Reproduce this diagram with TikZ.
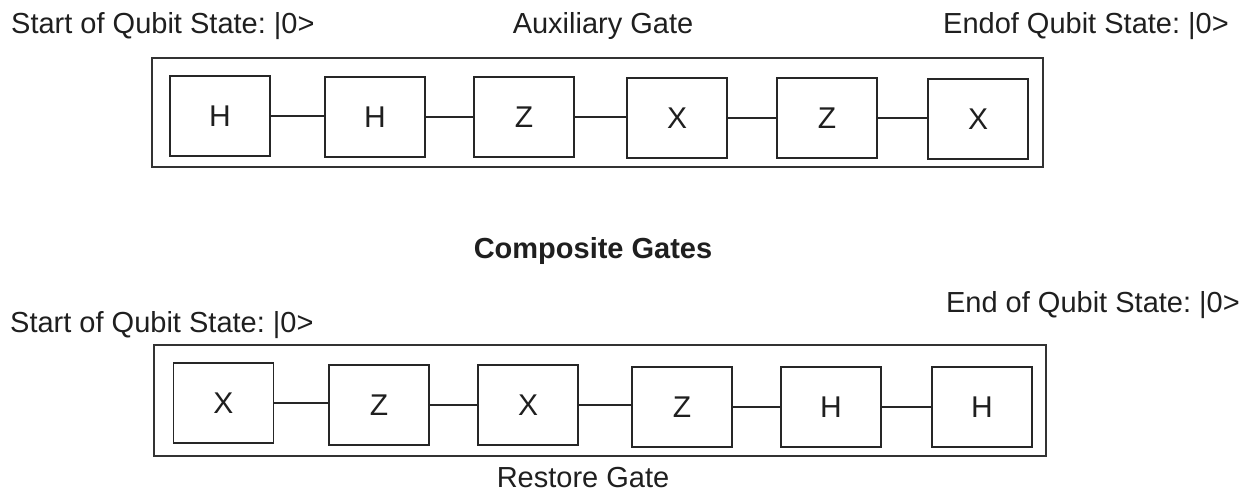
\documentclass[tikz,border=0pt]{standalone}
\usepackage{fontspec}
\setmainfont{Liberation Sans}
\frenchspacing
\begin{document}
\begin{tikzpicture}[x=1pt,y=-1pt,
  lbl/.style={inner sep=0pt,text=black!88,font=\fontsize{29}{34}\selectfont},
  gatebox/.style={draw=black!85,line width=1.6pt,minimum width=100pt,minimum height=80pt,inner sep=0pt,text=black!88,font=\fontsize{30}{36}\selectfont},
  outerbox/.style={draw=black!80,line width=1.8pt,inner sep=0pt},
  wire/.style={draw=black!85,line width=1.3pt}]
\useasboundingbox (0,0) rectangle (1247,491);
\fill[white] (0,0) rectangle (1247,491);
% top group
\node[outerbox,minimum width=891pt,minimum height=109pt] (top) at (597.5,112.5) {};
\node[gatebox] (t1) at (220,116) {H};
\node[gatebox] (t2) at (375,117) {H};
\node[gatebox] (t3) at (524,117) {Z};
\node[gatebox] (t4) at (677,118) {X};
\node[gatebox] (t5) at (827,118) {Z};
\node[gatebox] (t6) at (978,119) {X};
\draw[wire] (t1.east) -- (t1.east -| t2.west);
\draw[wire] (t2.east) -- (t2.east -| t3.west);
\draw[wire] (t3.east) -- (t3.east -| t4.west);
\draw[wire] (t4.east) -- (t4.east -| t5.west);
\draw[wire] (t5.east) -- (t5.east -| t6.west);
\node[lbl,anchor=base west] (tstart) at (11,33) {Start of Qubit State: |0>};
\node[lbl,anchor=base] (taux) at (603,33) {Auxiliary Gate};
\node[lbl,anchor=base east] (tend) at (1229,33) {Endof Qubit State: |0>};
% middle title
\node[lbl,anchor=base,font=\fontsize{29}{34}\selectfont\bfseries] (comp) at (593,258) {Composite Gates};
% bottom group
\node[outerbox,minimum width=892pt,minimum height=111pt] (bot) at (600,400.5) {};
\node[gatebox] (b1) at (223.5,403) {X};
\node[gatebox] (b2) at (379,405) {Z};
\node[gatebox] (b3) at (528,405) {X};
\node[gatebox] (b4) at (682,407) {Z};
\node[gatebox] (b5) at (831,407) {H};
\node[gatebox] (b6) at (982,407) {H};
\draw[wire] (b1.east) -- (b1.east -| b2.west);
\draw[wire] (b2.east) -- (b2.east -| b3.west);
\draw[wire] (b3.east) -- (b3.east -| b4.west);
\draw[wire] (b4.east) -- (b4.east -| b5.west);
\draw[wire] (b5.east) -- (b5.east -| b6.west);
\node[lbl,anchor=base west] (bstart) at (10,332) {Start of Qubit State: |0>};
\node[lbl,anchor=base east] (bend) at (1240,312) {End of Qubit State: |0>};
\node[lbl,anchor=base] (brest) at (583,487) {Restore Gate};
\end{tikzpicture}
\end{document}
